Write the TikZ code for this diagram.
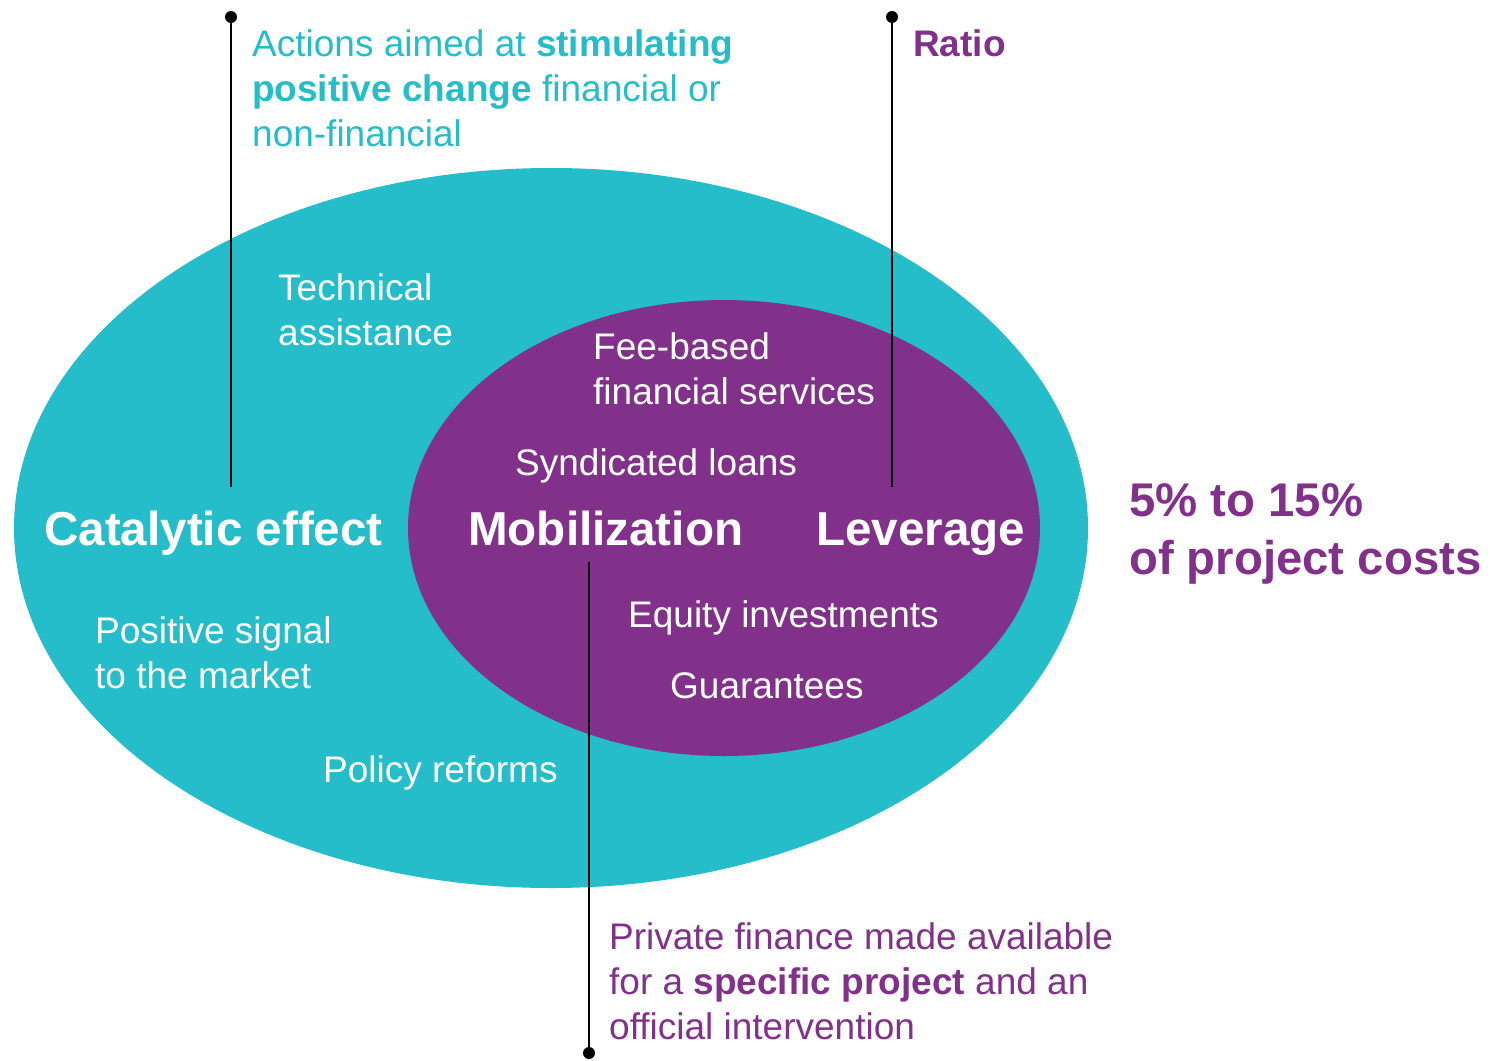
\documentclass[tikz,border=0pt]{standalone}
\usepackage{fontspec}
\setmainfont{Liberation Sans}
\definecolor{tealc}{HTML}{24BDC9}
\definecolor{purp}{HTML}{82318B}
\begin{document}
\begin{tikzpicture}[x=1pt,y=-1pt,
  txt/.style={inner sep=0pt,anchor=west,align=left,font=\fontsize{37}{45}\selectfont},
  big/.style={inner sep=0pt,anchor=base west,font=\fontsize{47.6}{56}\selectfont\bfseries,text=white},
  conn/.style={line width=2.2pt,black},
  dot/.style={circle,fill=black,inner sep=0pt,minimum size=12pt}]
\useasboundingbox[fill=white] (0,0) rectangle (1490,1060);
\fill[tealc] (551,528) ellipse [x radius=537, y radius=360];
\fill[purp] (724,528) ellipse [x radius=316, y radius=228];

% texts
\node[txt,text=white] (ta) at (278,309.5) {Technical\\assistance};
\node[txt,text=white] (fee) at (593,368.5) {Fee-based\\financial services};
\node[txt,text=white] (syn) at (515,466) {Syndicated loans};
\node[big] (cat) at (44,545) {Catalytic effect};
\node[big] (mob) at (468,545) {Mobilization};
\node[big] (lev) at (816,545) {Leverage};
\node[txt,text=white] (eq) at (628,618) {Equity investments};
\node[txt,text=white] (gua) at (670,686) {Guarantees};
\node[txt,text=white] (pos) at (95,653) {Positive signal\\to the market};
\node[txt,text=white] (pol) at (323,773) {Policy reforms};

\node[txt,text=tealc] (act) at (252,88.5) {Actions aimed at \textbf{stimulating}\\\textbf{positive change} financial or\\non-financial};
\node[txt,text=purp,font=\fontsize{37}{45}\selectfont\bfseries] (rat) at (913,43) {Ratio};
\node[txt,text=purp] (pri) at (609,981) {Private finance made available\\for a \textbf{specific project} and an\\official intervention};
\node[inner sep=0pt,anchor=west,align=left,text=purp,font=\fontsize{47.3}{58}\selectfont\bfseries] (pct) at (1129,534) {5\% to 15\%\\of project costs};

% connectors
\coordinate (c1a) at (231,17);
\coordinate (c1b) at (231,487);
\coordinate (c2a) at (892,17);
\coordinate (c2b) at (892,487);
\coordinate (c3a) at (589,562);
\coordinate (c3b) at (589,1053);
\draw[conn] (c1a) -- (c1b);
\draw[conn] (c2a) -- (c2b);
\draw[conn] (c3a) -- (c3b);
\node[dot] (d1) at (c1a) {};
\node[dot] (d2) at (c2a) {};
\node[dot] (d3) at (c3b) {};
\end{tikzpicture}
\end{document}
